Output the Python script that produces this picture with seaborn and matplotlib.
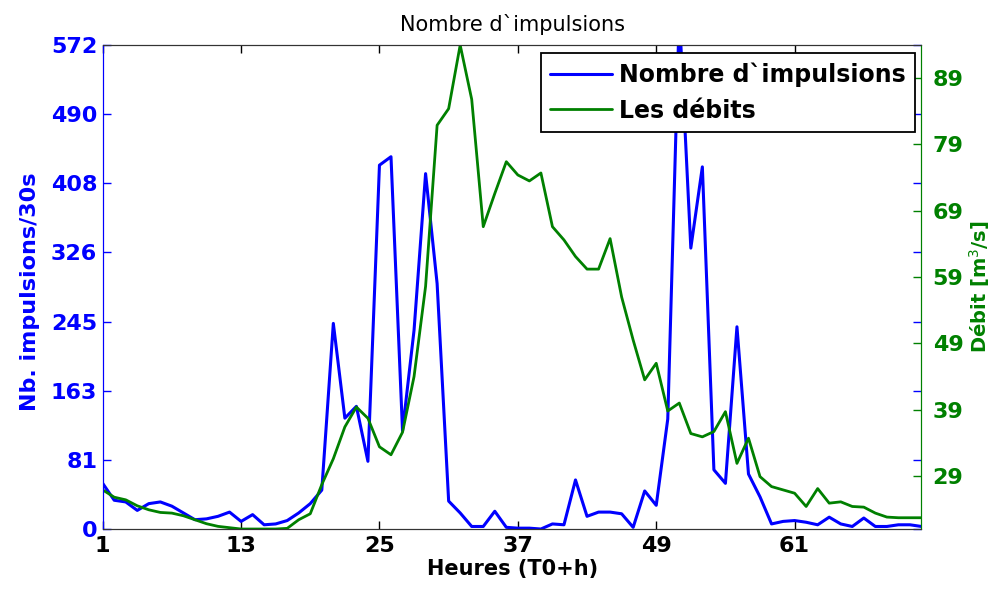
import numpy as np
import pandas as pd
import matplotlib
matplotlib.use('Agg')
import matplotlib.pyplot as plt
import seaborn as sns

sns.set_style('white')
plt.rcParams['font.family'] = ['DejaVu Sans']
plt.rcParams['text.color'] = 'black'
plt.rcParams['axes.labelcolor'] = 'black'

# données
heures = list(range(1, 73))
impulsions = [54, 34, 32, 22, 30, 32, 27, 19, 11, 12, 15, 20, 9, 17, 5, 6, 10, 19, 30, 46,
              243, 131, 145, 80, 430, 440, 116, 235, 420, 290, 33, 19, 3, 3, 21, 2, 1, 1, 0, 6,
              5, 58, 15, 20, 20, 18, 2, 45, 28, 130, 610, 332, 428, 70, 54, 239, 65, 38, 6, 9,
              10, 8, 5, 14, 6, 3, 13, 3, 3, 5, 5, 3]
debits = [26.9, 25.8, 25.4, 24.5, 23.9, 23.5, 23.4, 23.0, 22.4, 21.8, 21.4, 21.2, 21.0, 21.0,
          21.0, 21.0, 21.1, 22.4, 23.3, 27.7, 31.6, 36.4, 39.4, 37.7, 33.4, 32.2, 35.6, 44.0,
          57.6, 81.9, 84.4, 94.0, 85.8, 66.6, 71.6, 76.4, 74.4, 73.5, 74.7, 66.6, 64.6, 62.1,
          60.2, 60.2, 64.8, 56.0, 49.5, 43.5, 46.0, 38.8, 40.0, 35.4, 34.9, 35.7, 38.7, 30.9,
          34.7, 28.9, 27.4, 26.9, 26.4, 24.4, 27.1, 24.9, 25.1, 24.4, 24.3, 23.4, 22.8, 22.7,
          22.7, 22.7]
xticks = [1, 13, 25, 37, 49, 61]
yticks_g = [0, 81.71, 163.43, 245.14, 326.86, 408.57, 490.29, 572]
ylabels_g = ['0', '81', '163', '245', '326', '408', '490', '572']
yticks_d = [29, 39, 49, 59, 69, 79, 89]

df = pd.DataFrame({'h': heures, 'imp': impulsions, 'q': debits})

bleu = '#0000ff'
vert = '#008000'

fig = plt.figure(figsize=(9.95, 5.94), dpi=100)
ax = fig.add_axes([0.1032, 0.1094, 0.8229, 0.8148])
ax2 = ax.twinx()

sns.lineplot(data=df, x='h', y='imp', ax=ax, color=bleu, linewidth=2.2,
             label="Nombre d`impulsions", legend=False)
sns.lineplot(data=df, x='h', y='q', ax=ax2, color=vert, linewidth=2.0,
             label='Les débits', legend=False)

ax.set_xlim(1, 72)
ax.set_ylim(0, 572)
ax2.set_ylim(21, 94)

ax.set_xticks(xticks)
ax.set_yticks(yticks_g)
ax.set_yticklabels(ylabels_g)
ax2.set_yticks(yticks_d)

fs = 16
ax.tick_params(axis='x', direction='in', length=6, width=1, top=True, bottom=True,
               labelsize=fs, pad=5, colors='black')
ax.tick_params(axis='y', direction='in', length=6, width=1, left=True, right=True,
               labelsize=fs, pad=4, colors=bleu)
ax2.tick_params(axis='y', direction='in', length=6, width=1, right=True,
                labelsize=fs, pad=8, colors=vert)
for lab in ax.get_xticklabels() + ax.get_yticklabels() + ax2.get_yticklabels():
    lab.set_fontweight('bold')

for a in (ax, ax2):
    a.spines['top'].set_color('#333333')
    a.spines['bottom'].set_color('#333333')
    a.spines['left'].set_color(bleu)
    a.spines['right'].set_color(vert)

ax.set_xlabel('Heures (T0+h)', fontsize=15, fontweight='bold', labelpad=2)
ax.set_ylabel('Nb. impulsions/30s', fontsize=16, fontweight='bold', color=bleu)
ax.yaxis.set_label_coords(-0.077, 0.49)
ax2.set_ylabel('Débit [m$^3$/s]', fontsize=14, fontweight='bold', color=vert)
ax2.yaxis.set_label_coords(1.0555, 0.5)
ax.set_title("Nombre d`impulsions", fontsize=15, pad=10)

h1, l1 = ax.get_legend_handles_labels()
h2, l2 = ax2.get_legend_handles_labels()
leg = ax2.legend(h1 + h2, l1 + l2, loc='upper right', bbox_to_anchor=(915 / 995, 1 - 53 / 594),
                 bbox_transform=fig.transFigure, borderaxespad=0, fancybox=False,
                 framealpha=1, edgecolor='black', handlelength=2.6, handletextpad=0.3,
                 prop={'size': 17, 'weight': 'bold'})
leg.get_frame().set_linewidth(1.3)

fig.savefig('out.png', dpi=100)
